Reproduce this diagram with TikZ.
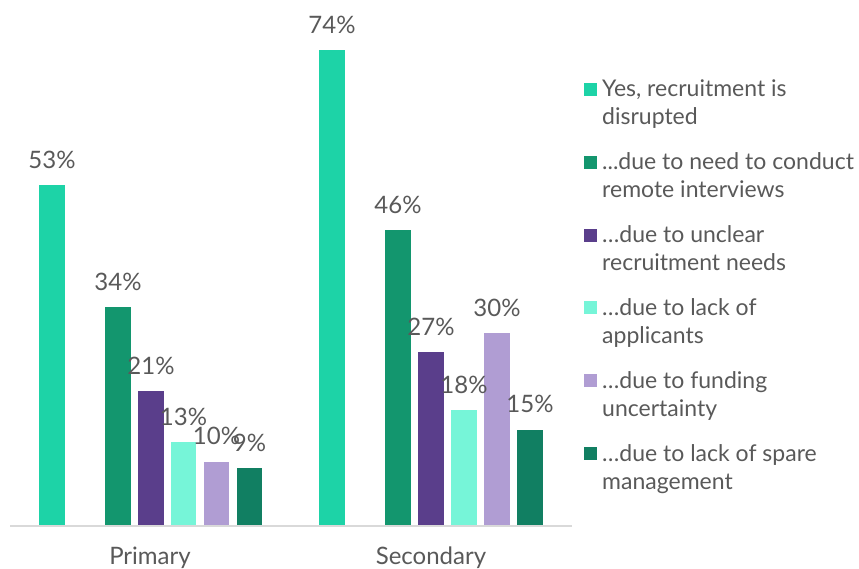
\documentclass[tikz,border=0pt]{standalone}
\usepackage{fontspec}
\setmainfont{Lato}
\definecolor{txt}{HTML}{595959}
\definecolor{axisgrey}{HTML}{D9D9D9}
\definecolor{yes}{HTML}{1DD3A7}
\definecolor{remote}{HTML}{13966E}
\definecolor{unclear}{HTML}{5A3E8B}
\definecolor{applic}{HTML}{76F5D8}
\definecolor{funding}{HTML}{B09DD3}
\definecolor{spare}{HTML}{117F62}
\begin{document}
\begin{tikzpicture}[x=1pt,y=-1pt,
            every node/.style={text=txt,inner sep=0pt,anchor=base,
              font=\fontsize{24}{28}\selectfont},
            key/.style={anchor=base west,font=\fontsize{23}{28}\selectfont}]
            \useasboundingbox (0,0) rectangle (859,569);
            % bars, Primary
            \fill[yes] (39,526) rectangle (65,185.2);
            \fill[remote] (105,526) rectangle (131,307.4);
            \fill[unclear] (138,526) rectangle (164,391);
            \fill[applic] (171,526) rectangle (196,442.4);
            \fill[funding] (204,526) rectangle (229,461.7);
            \fill[spare] (237,526) rectangle (262,468.1);
            % bars, Secondary
            \fill[yes] (319,526) rectangle (345,50.2);
            \fill[remote] (385,526) rectangle (411,230.2);
            \fill[unclear] (418,526) rectangle (444,352.4);
            \fill[applic] (451,526) rectangle (477,410.3);
            \fill[funding] (484,526) rectangle (510,333.1);
            \fill[spare] (517,526) rectangle (543,429.5);
            \draw[axisgrey,line width=1.5pt] (10,526) -- (572,526);
            % values
            \node (p1) at (52,168.2) {53\%};
            \node (p2) at (118,290.4) {34\%};
            \node (p3) at (151,374) {21\%};
            \node (p4) at (183.5,425.4) {13\%};
            \node (p5) at (216.5,444.7) {10\%};
            \node (p6) at (249.5,451.1) {9\%};
            \node (s1) at (332,33.2) {74\%};
            \node (s2) at (398,213.2) {46\%};
            \node (s3) at (431,335.4) {27\%};
            \node (s4) at (464,393.3) {18\%};
            \node (s5) at (497,316.1) {30\%};
            \node (s6) at (530,412.5) {15\%};
            % categories
            \node (primary) at (150,564) {Primary};
            \node (secondary) at (431,564) {Secondary};
            % legend
            \fill[yes] (584,83) rectangle (597,96);
            \node[key] (k1) at (602,97) {Yes, recruitment is};
            \node[key] (k1b) at (602,125) {disrupted};
            \fill[remote] (584,156) rectangle (597,169);
            \node[key] (k2) at (602,170) {...due to need to conduct};
            \node[key] (k2b) at (602,198) {remote interviews};
            \fill[unclear] (584,229) rectangle (597,242);
            \node[key] (k3) at (602,243) {\ldots due to unclear};
            \node[key] (k3b) at (602,271) {recruitment needs};
            \fill[applic] (584,301) rectangle (597,314);
            \node[key] (k4) at (602,315) {\ldots due to lack of};
            \node[key] (k4b) at (602,343) {applicants};
            \fill[funding] (584,374) rectangle (597,387);
            \node[key] (k5) at (602,388) {\ldots due to funding};
            \node[key] (k5b) at (602,416) {uncertainty};
            \fill[spare] (584,447) rectangle (597,460);
            \node[key] (k6) at (602,461) {\ldots due to lack of spare};
            \node[key] (k6b) at (602,489) {management};
\end{tikzpicture}
\end{document}
